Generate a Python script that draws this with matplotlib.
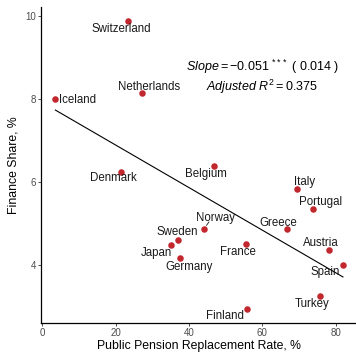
import numpy as np
import matplotlib
matplotlib.use("Agg")
import matplotlib.pyplot as plt

plt.rcParams["font.family"] = ["Liberation Sans", "DejaVu Sans"]
plt.rcParams["mathtext.fontset"] = "custom"
plt.rcParams["mathtext.rm"] = "Liberation Sans"
plt.rcParams["mathtext.it"] = "Liberation Sans:italic"
plt.rcParams["mathtext.bf"] = "Liberation Sans:bold"

# Country-level data
countries = ["Switzerland", "Netherlands", "Iceland", "Denmark", "Belgium",
             "Sweden", "Japan", "Germany", "Norway", "Italy", "Portugal",
             "Greece", "France", "Austria", "Spain", "Turkey", "Finland"]
replacement_rate = [23.4, 27.2, 3.55, 21.5, 46.7,
                    37.0, 35.2, 37.6, 44.1, 69.5, 73.7,
                    66.7, 55.5, 78.1, 82.0, 75.7, 55.8]
finance_share = [9.87, 8.13, 7.99, 6.23, 6.39,
                 4.61, 4.47, 4.18, 4.87, 5.82, 5.34,
                 4.86, 4.51, 4.35, 4.01, 3.25, 2.95]

x_ticks = [0, 20, 40, 60, 80]
y_ticks = [4, 6, 8, 10]

slope_text = r"$\mathit{Slope} = \mathrm{-0.051}$ $^{\mathrm{***}}$ ( 0.014 )"
r2_text = r"$\mathit{Adjusted\ R}^{2} = \mathrm{0.375}$"

# Label placement around each point (pixels: right, down)
label_offsets = {
    "Switzerland": (-7.3, 8), "Netherlands": (7, -6.7), "Iceland": (22, 0.3),
    "Denmark": (-7.7, 5.3), "Belgium": (-7.7, 8.3), "Sweden": (-1, -8),
    "Japan": (-14.7, 7.7), "Germany": (9.3, 9.6), "Norway": (11, -11.3),
    "Italy": (7.3, -7), "Portugal": (7.7, -7), "Greece": (-8.3, -6.7),
    "France": (-7.7, 8.3), "Austria": (-7.3, -7.3), "Spain": (-18, 7.7),
    "Turkey": (-7.3, 7.7), "Finland": (-22.3, 7),
}

W, H = 356, 352
fig = plt.figure(figsize=(W / 100, H / 100), dpi=100)
left, right, bottom, top = 41, 357.6, 323.3, 6.6
ax = fig.add_axes([left / W, (H - bottom) / H, (right - left) / W, (bottom - top) / H])

x = np.array(replacement_rate)
y = np.array(finance_share)

# OLS fit line over the observed range
b, a = np.polyfit(x, y, 1)
xs = np.array([x.min(), x.max()])
ax.plot(xs, a + b * xs, color="black", lw=0.8, zorder=2)

ax.scatter(x, y, s=22, color="#C1272D", zorder=3, linewidths=0)

for name, xi, yi in zip(countries, x, y):
    dx, dy = label_offsets[name]
    ax.annotate(name, (xi, yi), xytext=(dx, -dy), textcoords="offset pixels",
                ha="center", va="center", fontsize=8.3, color="#1a1a1a", zorder=4)

# Leader segment for Norway
nx, ny = x[countries.index("Norway")], y[countries.index("Norway")]
ax.annotate("", (nx, ny), xytext=(5, 7), textcoords="offset pixels",
            arrowprops=dict(arrowstyle="-", color="#1a1a1a", lw=0.6,
                            shrinkA=0, shrinkB=3))

ax.text(60.0, 8.77, slope_text, ha="center", va="center", fontsize=9)
ax.text(59.85, 8.29, r2_text, ha="center", va="center", fontsize=9)

ax.set_xlim(-0.37, 86.0)
ax.set_ylim(2.597, 10.22)
ax.set_xticks(x_ticks)
ax.set_yticks(y_ticks)
ax.tick_params(axis="both", direction="out", length=2.2, width=0.6,
               color="#333333", labelcolor="#4D4D4D", labelsize=7, pad=1.5)

for s in ["top", "right"]:
    ax.spines[s].set_visible(False)
for s in ["left", "bottom"]:
    ax.spines[s].set_linewidth(0.9)
    ax.spines[s].set_color("black")

ax.set_xlabel("Public Pension Replacement Rate, %", fontsize=8.8, color="black")
ax.set_ylabel("Finance Share, %", fontsize=8.8, color="black")
ax.xaxis.label.set_va("center")
ax.yaxis.label.set_va("center")
ax.xaxis.set_label_coords(0.5, -(345.5 - bottom) / (bottom - top))
ax.yaxis.set_label_coords(-(left - 14) / (right - left), 0.5)

fig.savefig("out.png", dpi=100)
